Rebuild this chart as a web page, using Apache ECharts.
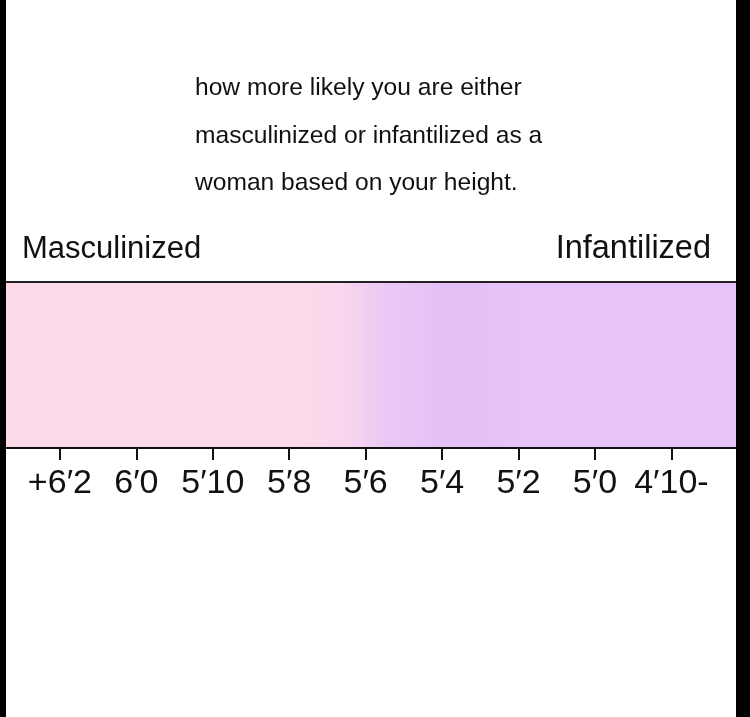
<!DOCTYPE html>
<html><head><meta charset="utf-8">
<script src="https://cdn.jsdelivr.net/npm/echarts@6/dist/echarts.min.js"></script>
<style>html,body{margin:0;padding:0;background:#fff}#c{width:750px;height:717px}</style>
</head><body><div id="c"></div>
<script>
// Height in inches (left = tall) and "infantilized" score (0 = masculinized pink, 1 = infantilized purple)
const heights = [75.5, 74, 72, 70, 68, 67, 66.5, 66, 65.5, 65, 64.5, 64, 63, 62, 60, 58, 56];
const scores  = [0, 0, 0, 0, 0.02, 0.08, 0.25, 0.55, 0.8, 0.93, 1.0, 1.03, 1.02, 1.0, 1.0, 1.0, 1.0];
const tickValues = [74, 72, 70, 68, 66, 64, 62, 60, 58];
const tickLabels = ['+6′2', '6′0', '5′10', '5′8', '5′6', '5′4', '5′2', '5′0', '4′10-'];
const titleLines = ['how more likely you are either', 'masculinized or infantilized as a', 'woman based on your height.'];
const leftLabel = 'Masculinized';
const rightLabel = 'Infantilized';

const FONT = '"Liberation Sans", Arial, Helvetica, sans-serif';
function colorFor(s) {
  const pink = [252, 218, 234], purple = [230, 196, 247], deep = [223, 189, 243];
  let a, b, t;
  if (s <= 1) { a = pink; b = purple; t = s; } else { a = purple; b = deep; t = Math.min(1, (s - 1) / 0.05); }
  return 'rgb(' + a.map((v, i) => Math.round(v + (b[i] - v) * t)).join(',') + ')';
}

const chart = echarts.init(document.getElementById('c'), null, {renderer: 'canvas'});
const labelMap = {};
tickValues.forEach((v, i) => labelMap[v] = tickLabels[i]);

const titleGraphics = titleLines.map((t, i) => ({
  type: 'text', left: 195, top: [76, 124, 171][i],
  style: {text: t, font: '24.6px ' + FONT, fill: '#111'}
}));

chart.setOption({
  backgroundColor: '#fff',
  animation: false,
  grid: {left: 6, right: 14, top: 282, bottom: 269},
  xAxis: [{
    type: 'value', min: 56.31, max: 75.41, inverse: true, position: 'bottom', z: 5,
    splitLine: {show: false},
    axisLine: {show: true, lineStyle: {color: '#111', width: 2}},
    axisTick: {show: true, length: 12, lineStyle: {color: '#111', width: 2}, customValues: tickValues},
    axisLabel: {show: true, margin: 19, fontSize: 34, fontFamily: FONT, color: '#111',
      customValues: tickValues, formatter: v => labelMap[v] || ''}
  }, {
    type: 'value', min: 56.31, max: 75.41, inverse: true, position: 'top', z: 5,
    splitLine: {show: false},
    axisLine: {show: true, lineStyle: {color: '#222', width: 2}},
    axisTick: {show: false}, axisLabel: {show: false}
  }],
  yAxis: {type: 'value', min: 0, max: 1, show: false},
  series: [{
    type: 'custom', z: 1, clip: true,
    data: heights.map((h, i) => [h, scores[i]]),
    encode: {x: 0, y: 1},
    renderItem: function (params, api) {
      const i = params.dataIndex;
      if (i >= heights.length - 1) return null;
      const p0 = api.coord([api.value(0), 1]);
      const p1 = api.coord([heights[i + 1], 0]);
      const x0 = Math.min(p0[0], p1[0]);
      const x1 = Math.max(p0[0], p1[0]);
      return {
        type: 'rect',
        shape: {x: x0, y: p0[1], width: x1 - x0 + 1, height: p1[1] - p0[1]},
        style: {fill: new echarts.graphic.LinearGradient(0, 0, 1, 0, [
          {offset: 0, color: colorFor(api.value(1))},
          {offset: 1, color: colorFor(scores[i + 1])}
        ])}
      };
    }
  }],
  graphic: titleGraphics.concat([
    {type: 'text', left: 22, top: 234, style: {text: leftLabel, font: '31px ' + FONT, fill: '#111'}},
    {type: 'text', right: 39, top: 233, style: {text: rightLabel, font: '32.5px ' + FONT, fill: '#111'}},
    {type: 'rect', left: 0, top: 0, z: 100, shape: {width: 6, height: 717}, style: {fill: '#000'}},
    {type: 'rect', left: 736, top: 0, z: 100, shape: {width: 14, height: 717}, style: {fill: '#000'}}
  ])
});
</script>
</body></html>
